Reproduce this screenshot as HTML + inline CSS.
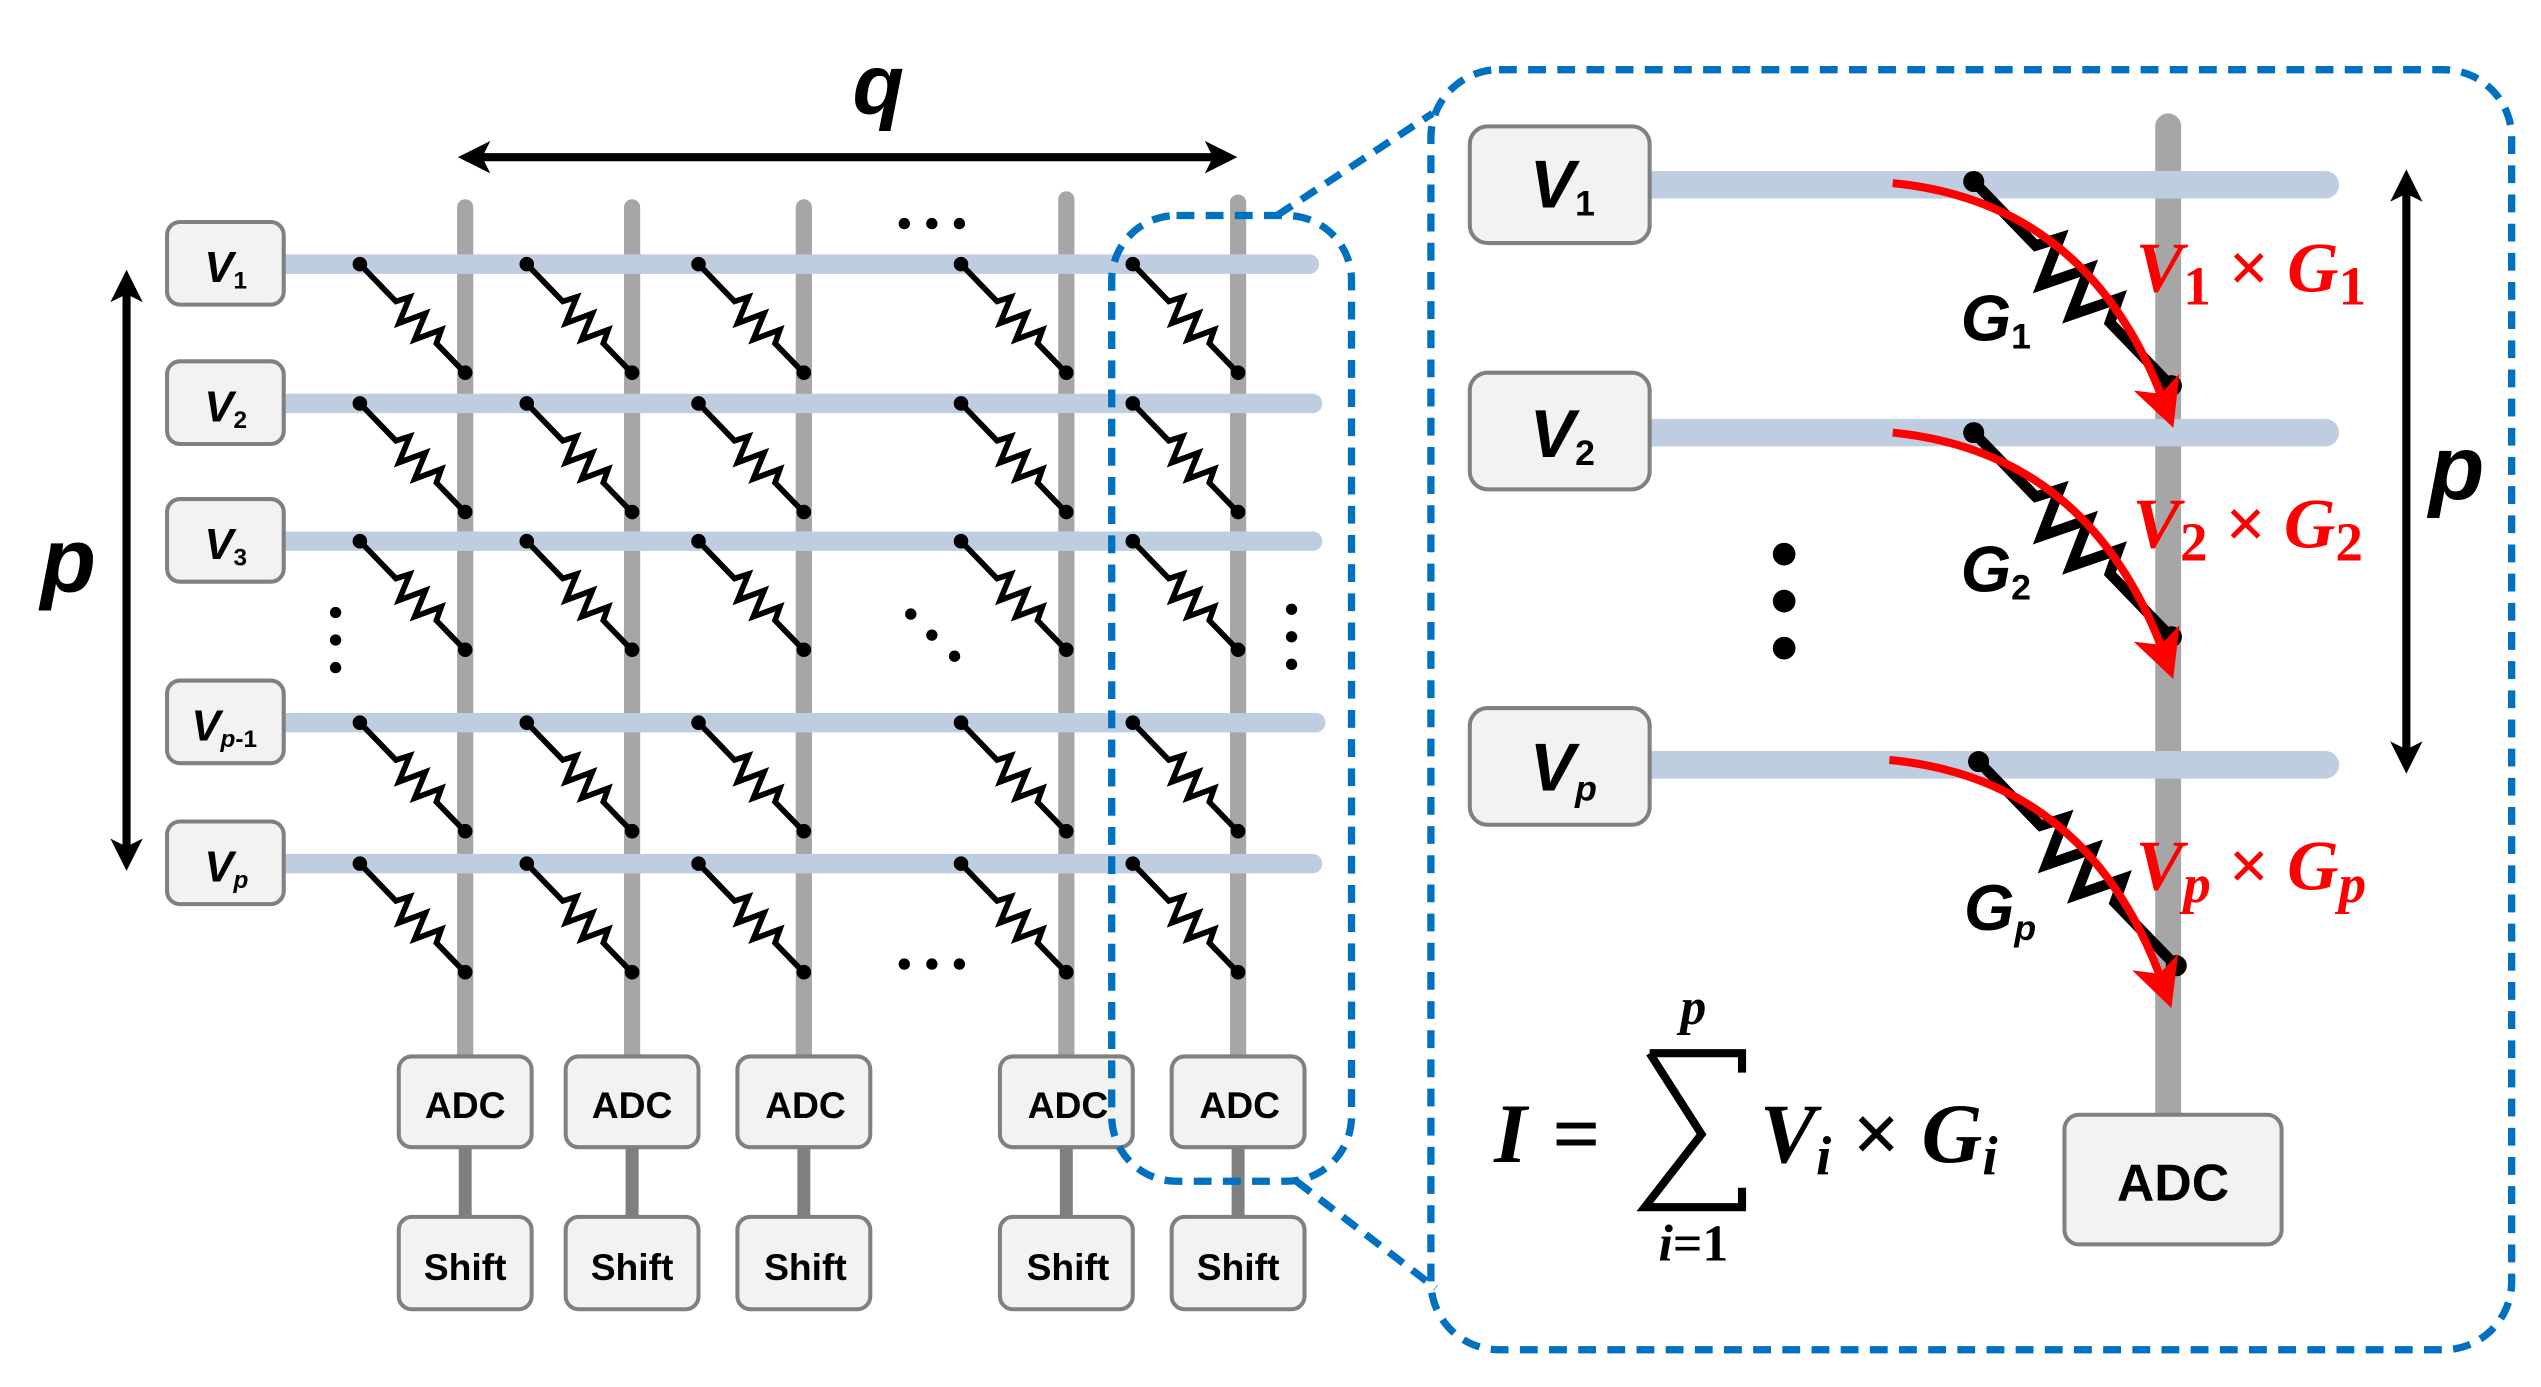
<!DOCTYPE html>
<html><head><meta charset="utf-8"><style>
html,body{margin:0;padding:0;background:#fff}
svg{display:block}
text{font-family:"Liberation Sans",sans-serif;font-weight:bold}
text.s, .s text{font-family:"Liberation Serif",serif}
</style></head><body>
<svg width="2541" height="1387" viewBox="0 0 1568 856" xmlns="http://www.w3.org/2000/svg">
<defs>
<g id="r">
<path d="M0,0 L32,0 l4,-8 l7,16 l7,-16 l7,16 l7,-16 l4,8 L93,0" transform="rotate(46)" fill="none" stroke="#000" stroke-width="3.5" stroke-linejoin="miter"/>
<circle cx="0" cy="0" r="4.5"/><circle cx="65" cy="67" r="4.5"/>
</g>
<g id="R">
<path d="M0,0 L55,0 l7,-14 l13,28 l13,-28 l13,28 l13,-28 l7,14 L175,0" transform="rotate(46)" fill="none" stroke="#000" stroke-width="6.5"/>
<circle cx="0" cy="0" r="6.5"/><circle cx="122" cy="126" r="6.5"/>
</g>
<marker id="ah" markerWidth="6" markerHeight="6" refX="3" refY="3" orient="auto" markerUnits="strokeWidth"><path d="M0,0 L6,3 L0,6 L1.5,3 z" fill="#f00"/></marker>
<marker id="bh" markerWidth="4" markerHeight="4" refX="2.5" refY="2" orient="auto-start-reverse" markerUnits="strokeWidth"><path d="M0,0 L4,2 L0,4 L1,2 z" fill="#000"/></marker>
</defs>

<text x="542" y="70" font-size="52" font-style="italic" text-anchor="middle">q</text>
<line x1="290" y1="97" x2="756" y2="97" stroke="#000" stroke-width="5" marker-start="url(#bh)" marker-end="url(#bh)"/>
<line x1="78" y1="174" x2="78" y2="530" stroke="#000" stroke-width="5" marker-start="url(#bh)" marker-end="url(#bh)"/>
<text x="42" y="365" font-size="56" font-style="italic" text-anchor="middle">p</text>

<g stroke="#a6a6a6" stroke-width="10" stroke-linecap="round">
<line x1="287" y1="128" x2="287" y2="655"/><line x1="390" y1="128" x2="390" y2="655"/><line x1="496" y1="128" x2="496" y2="655"/><line x1="658" y1="123" x2="658" y2="655"/><line x1="764" y1="125" x2="764" y2="655"/>
</g>
<g stroke="#bfcde1" stroke-width="12" stroke-linecap="round">
<line x1="175" y1="163" x2="808" y2="163"/><line x1="175" y1="249" x2="810" y2="249"/><line x1="175" y1="334" x2="810" y2="334"/><line x1="175" y1="446" x2="812" y2="446"/><line x1="175" y1="533" x2="810" y2="533"/>
</g>
<g>
<use href="#r" x="222" y="163"/><use href="#r" x="325" y="163"/><use href="#r" x="431" y="163"/><use href="#r" x="593" y="163"/><use href="#r" x="699" y="163"/>
<use href="#r" x="222" y="249"/><use href="#r" x="325" y="249"/><use href="#r" x="431" y="249"/><use href="#r" x="593" y="249"/><use href="#r" x="699" y="249"/>
<use href="#r" x="222" y="334"/><use href="#r" x="325" y="334"/><use href="#r" x="431" y="334"/><use href="#r" x="593" y="334"/><use href="#r" x="699" y="334"/>
<use href="#r" x="222" y="446"/><use href="#r" x="325" y="446"/><use href="#r" x="431" y="446"/><use href="#r" x="593" y="446"/><use href="#r" x="699" y="446"/>
<use href="#r" x="222" y="533"/><use href="#r" x="325" y="533"/><use href="#r" x="431" y="533"/><use href="#r" x="593" y="533"/><use href="#r" x="699" y="533"/>
</g>
<g fill="#000">
<circle cx="558" cy="138" r="3.5"/><circle cx="575" cy="138" r="3.5"/><circle cx="592" cy="138" r="3.5"/>
<circle cx="558" cy="595" r="3.5"/><circle cx="575" cy="595" r="3.5"/><circle cx="592" cy="595" r="3.5"/>
<circle cx="207" cy="378" r="3.5"/><circle cx="207" cy="395" r="3.5"/><circle cx="207" cy="412" r="3.5"/>
<circle cx="562" cy="379" r="3.5"/><circle cx="575" cy="392" r="3.5"/><circle cx="589" cy="405" r="3.5"/>
<circle cx="797" cy="376" r="3.5"/><circle cx="797" cy="393" r="3.5"/><circle cx="797" cy="410" r="3.5"/>
</g>
<g fill="#f2f2f2" stroke="#808080" stroke-width="2.5">
<rect x="103" y="137" width="72" height="51" rx="8"/><rect x="103" y="223" width="72" height="51" rx="8"/><rect x="103" y="308" width="72" height="51" rx="8"/><rect x="103" y="420" width="72" height="51" rx="8"/><rect x="103" y="507" width="72" height="51" rx="8"/>
</g>
<g font-size="27" font-style="italic">
<text x="126" y="174">V<tspan font-size="15" font-style="normal" dy="4">1</tspan></text>
<text x="126" y="260">V<tspan font-size="15" font-style="normal" dy="4">2</tspan></text>
<text x="126" y="345">V<tspan font-size="15" font-style="normal" dy="4">3</tspan></text>
<text x="118" y="457">V<tspan font-size="15" dy="4">p</tspan><tspan font-size="15" font-style="normal">-1</tspan></text>
<text x="126" y="544">V<tspan font-size="15" dy="4">p</tspan></text>
</g>
<g stroke="#7f7f7f" stroke-width="8">
<line x1="287" y1="705" x2="287" y2="752"/><line x1="390" y1="705" x2="390" y2="752"/><line x1="496" y1="705" x2="496" y2="752"/><line x1="658" y1="705" x2="658" y2="752"/><line x1="764" y1="705" x2="764" y2="752"/>
</g>
<g fill="#f2f2f2" stroke="#808080" stroke-width="2.5">
<rect x="246" y="652" width="82" height="56" rx="8"/><rect x="349" y="652" width="82" height="56" rx="8"/><rect x="455" y="652" width="82" height="56" rx="8"/><rect x="617" y="652" width="82" height="56" rx="8"/><rect x="723" y="652" width="82" height="56" rx="8"/>
<rect x="246" y="751" width="82" height="57" rx="8"/><rect x="349" y="751" width="82" height="57" rx="8"/><rect x="455" y="751" width="82" height="57" rx="8"/><rect x="617" y="751" width="82" height="57" rx="8"/><rect x="723" y="751" width="82" height="57" rx="8"/>
</g>
<g font-size="23" text-anchor="middle" fill="#000">
<text x="287" y="690">ADC</text><text x="390" y="690">ADC</text><text x="497" y="690">ADC</text><text x="659" y="690">ADC</text><text x="765" y="690">ADC</text>
<text x="287" y="790">Shift</text><text x="390" y="790">Shift</text><text x="497" y="790">Shift</text><text x="659" y="790">Shift</text><text x="764" y="790">Shift</text>
</g>

<g fill="none" stroke="#0070c0" stroke-width="4.5" stroke-dasharray="11,7">
<rect x="686" y="133" width="148" height="596" rx="40"/>
<line x1="788" y1="133" x2="884" y2="70"/>
<line x1="800" y1="729" x2="886" y2="795"/>
<rect x="883" y="43" width="667" height="790" rx="42"/>
</g>

<line x1="1338" y1="78" x2="1338" y2="690" stroke="#a6a6a6" stroke-width="16" stroke-linecap="round"/>
<g stroke="#bfcde1" stroke-width="17" stroke-linecap="round">
<line x1="1018" y1="114" x2="1435" y2="114"/><line x1="1018" y1="267" x2="1435" y2="267"/><line x1="1018" y1="472" x2="1435" y2="472"/>
</g>
<use href="#R" x="1218" y="112"/><use href="#R" x="1218" y="267"/><use href="#R" x="1221" y="470"/>
<g fill="none" stroke="#f00" stroke-width="5">
<path d="M1168,113 Q1290,125 1336,250" marker-end="url(#ah)"/>
<path d="M1168,267 Q1290,279 1336,405" marker-end="url(#ah)"/>
<path d="M1166,469 Q1290,481 1335,608" marker-end="url(#ah)"/>
</g>
<g fill="#f2f2f2" stroke="#808080" stroke-width="2.5">
<rect x="907" y="78" width="111" height="72" rx="11"/><rect x="907" y="230" width="111" height="72" rx="11"/><rect x="907" y="437" width="111" height="72" rx="11"/>
<rect x="1274" y="688" width="134" height="80" rx="9"/>
</g>
<text x="1341" y="741" font-size="32" text-anchor="middle">ADC</text>
<g font-size="42" font-style="italic">
<text x="944" y="128">V<tspan font-size="22" font-style="normal" dy="5">1</tspan></text>
<text x="944" y="282">V<tspan font-size="22" font-style="normal" dy="5">2</tspan></text>
<text x="944" y="488">V<tspan font-size="22" dy="6">p</tspan></text>
</g>
<g font-size="40" font-style="italic">
<text x="1210" y="210">G<tspan font-size="22" font-style="normal" dy="5">1</tspan></text>
<text x="1210" y="365">G<tspan font-size="22" font-style="normal" dy="5">2</tspan></text>
<text x="1212" y="574">G<tspan font-size="22" dy="6">p</tspan></text>
</g>
<g font-size="44" fill="#f00" font-style="italic" class="s">
<text x="1318" y="180">V<tspan font-style="normal" font-size="34" dy="8">1</tspan><tspan font-style="normal" dy="-8"> × </tspan>G<tspan font-style="normal" font-size="34" dy="8">1</tspan></text>
<text x="1316" y="338">V<tspan font-style="normal" font-size="34" dy="8">2</tspan><tspan font-style="normal" dy="-8"> × </tspan>G<tspan font-style="normal" font-size="34" dy="8">2</tspan></text>
<text x="1318" y="549">V<tspan font-size="34" dy="8">p</tspan><tspan font-style="normal" dy="-8"> × </tspan>G<tspan font-size="34" dy="8">p</tspan></text>
</g>
<g fill="#000"><circle cx="1101" cy="342" r="7"/><circle cx="1101" cy="371" r="7"/><circle cx="1101" cy="400" r="7"/></g>
<line x1="1485" y1="112" x2="1485" y2="470" stroke="#000" stroke-width="5" marker-start="url(#bh)" marker-end="url(#bh)"/>
<text x="1516" y="308" font-size="56" font-style="italic" text-anchor="middle">p</text>
<g font-style="italic" fill="#000" class="s">
<text x="922" y="717" font-size="52">I</text>
<text x="958" y="717" font-size="52" font-style="normal">=</text>
<text x="1045" y="632" font-size="32" text-anchor="middle">p</text>
<text x="1045" y="778" font-size="32" text-anchor="middle">i<tspan font-style="normal">=1</tspan></text>
<text x="1086" y="717" font-size="52">V<tspan font-size="34" dy="8">i</tspan><tspan font-style="normal" font-size="52" dy="-8"> × </tspan>G<tspan font-size="34" dy="8">i</tspan></text>
</g>
<path d="M1018,650 L1075,650 L1075,662 M1018,650 L1050,700 L1015,745 L1075,745 L1075,733" fill="none" stroke="#000" stroke-width="5"/>
</svg>
</body></html>
